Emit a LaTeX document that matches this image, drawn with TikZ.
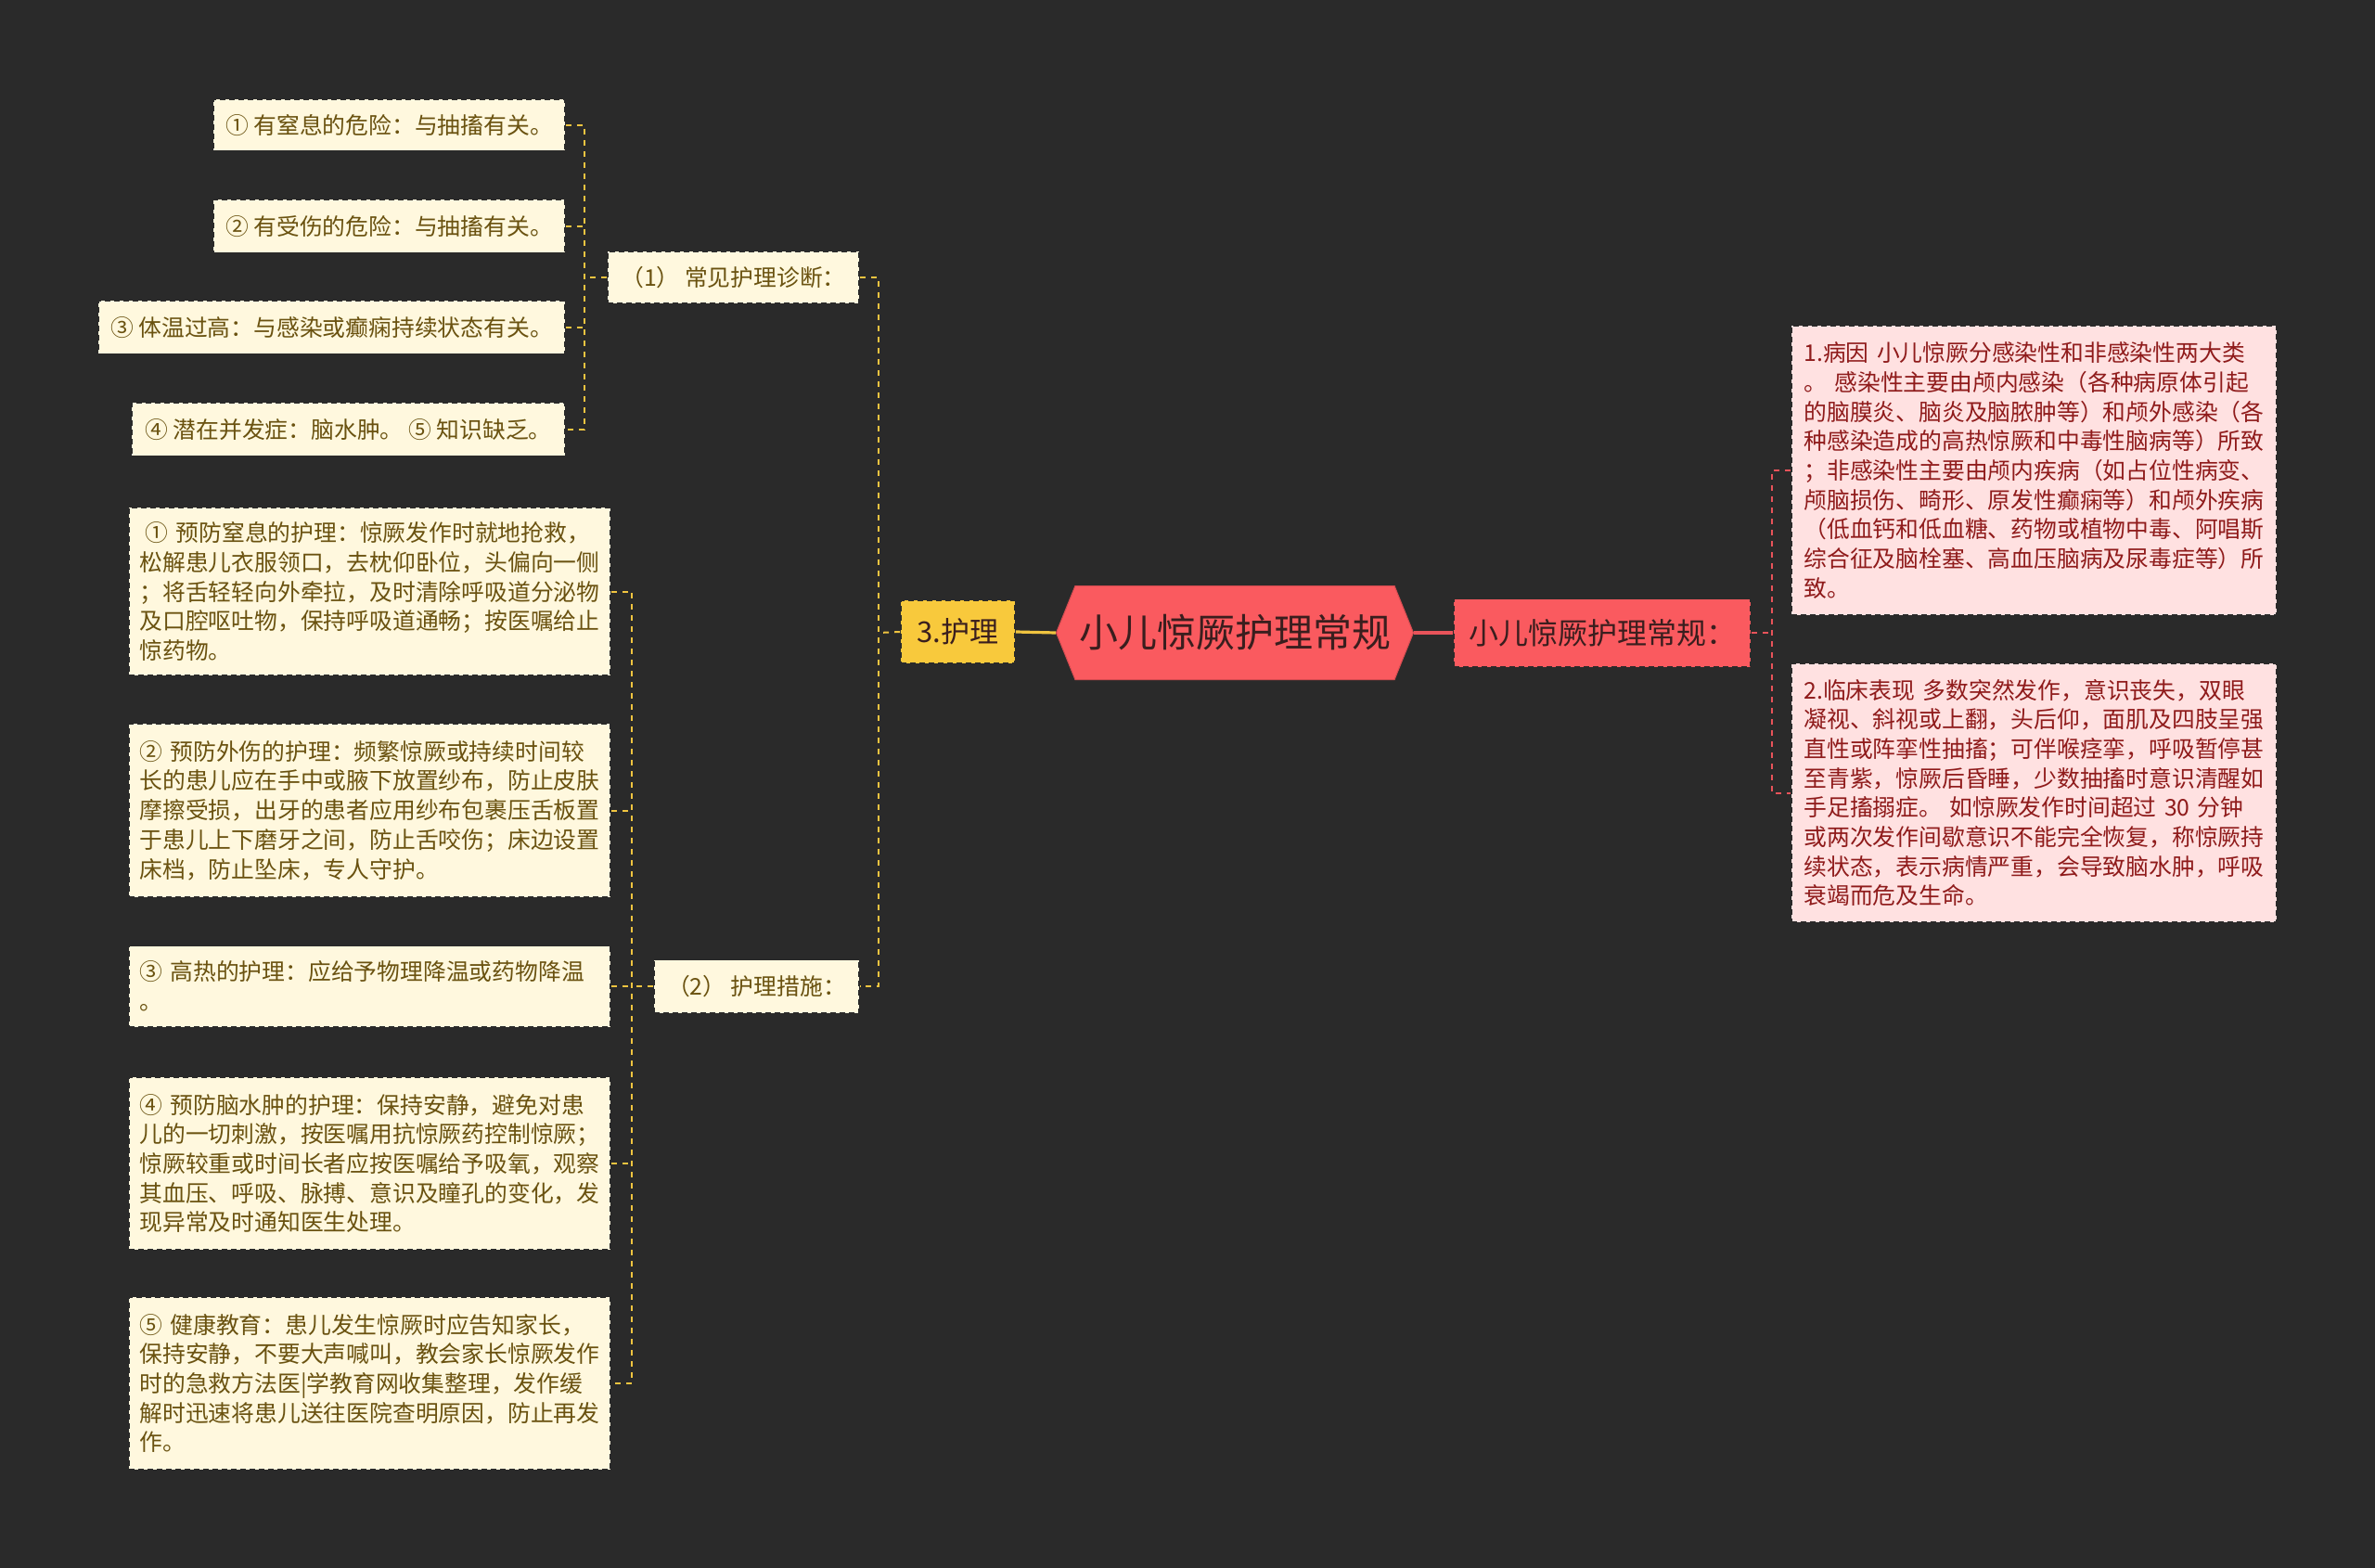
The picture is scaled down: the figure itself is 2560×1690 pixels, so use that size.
\documentclass[tikz,border=0pt]{standalone}
\usepackage{fontspec}
\setmainfont{Noto Sans CJK SC}
\usetikzlibrary{shapes.symbols}
\definecolor{bg}{HTML}{2A2A2A}
\definecolor{cream}{HTML}{FFF8DE}
\definecolor{creamtext}{HTML}{6A5210}
\definecolor{pink}{HTML}{FFE1E1}
\definecolor{pinktext}{HTML}{8F1B1B}
\definecolor{coral}{HTML}{FA5A5F}
\definecolor{gold}{HTML}{F8C93C}
\definecolor{goldline}{HTML}{F0C440}
\definecolor{redline}{HTML}{E8535A}
\definecolor{roottext}{HTML}{3A1E1E}
\tikzset{
  box/.style={draw=bg, dash pattern=on 3pt off 2pt, line width=0.9pt, inner sep=0pt},
  leaf/.style={box, fill=cream, text=creamtext, font=\fontsize{12.4}{15.85}\selectfont},
  leafnote/.style={leaf, align=left, text width=248pt, minimum width=259.5pt},
  pinknote/.style={box, fill=pink, text=pinktext, font=\fontsize{12.4}{15.85}\selectfont,
    align=left, text width=248pt, minimum width=261.5pt},
  golddash/.style={goldline, line width=1pt, dash pattern=on 3pt off 3pt},
  reddash/.style={redline, line width=1pt, dash pattern=on 3pt off 3pt},
}
\begin{document}
\begin{tikzpicture}[x=0.5pt, y=-0.5pt]
  \useasboundingbox[fill=bg] (0,0) rectangle (2560,1690);
  % Centre
  \node[signal, signal to=west and east, signal pointer angle=136, fill=coral, draw=coral!85!black,
    line width=0.5pt, inner sep=0pt, minimum width=192.5pt, minimum height=50.5pt,
    text=roottext, font=\fontsize{21}{24}\selectfont] (root) at (1331,682) {小儿惊厥护理常规};
  \node[box, fill=coral, text=roottext, minimum width=160pt, minimum height=36.5pt,
    font=\fontsize{16}{19}\selectfont] (sub) at (1727,682) {小儿惊厥护理常规：};
  \node[box, fill=gold, text=roottext, minimum width=61.5pt, minimum height=34pt,
    font=\fontsize{15.5}{18}\selectfont] (care) at (1032.5,681) {3.护理};
  % Right branch
  \node[pinknote, minimum height=156pt] (cause) at (2192.5,507) {1.病因 小儿惊厥分感染性和非感染性两大类\\
    。 感染性主要由颅内感染（各种病原体引起\\
    的脑膜炎、脑炎及脑脓肿等）和颅外感染（各\\
    种感染造成的高热惊厥和中毒性脑病等）所致\\
    ；非感染性主要由颅内疾病（如占位性病变、\\
    颅脑损伤、畸形、原发性癫痫等）和颅外疾病\\
    （低血钙和低血糖、药物或植物中毒、阿唱斯\\
    综合征及脑栓塞、高血压脑病及尿毒症等）所\\
    致。};
  \node[pinknote, minimum height=139.5pt] (sign) at (2192.5,854.5) {2.临床表现 多数突然发作，意识丧失，双眼\\
    凝视、斜视或上翻，头后仰，面肌及四肢呈强\\
    直性或阵挛性抽搐；可伴喉痉挛，呼吸暂停甚\\
    至青紫，惊厥后昏睡，少数抽搐时意识清醒如\\
    手足搐搦症。 如惊厥发作时间超过 30 分钟\\
    或两次发作间歇意识不能完全恢复，称惊厥持\\
    续状态，表示病情严重，会导致脑水肿，呼吸\\
    衰竭而危及生命。};
  % Left branch
  \node[leaf, minimum width=135.5pt, minimum height=28pt] (diag) at (790.5,299) {（1） 常见护理诊断：};
  \node[leaf, minimum width=110.5pt, minimum height=28.5pt] (meas) at (815.5,1063) {（2） 护理措施：};
  \node[leaf, minimum width=189.5pt, minimum height=27.5pt] (c1) at (419.5,135) {① 有窒息的危险：与抽搐有关。};
  \node[leaf, minimum width=189.5pt, minimum height=28.5pt] (c2) at (419.5,244) {② 有受伤的危险：与抽搐有关。};
  \node[leaf, minimum width=251.5pt, minimum height=28.5pt] (c3) at (357.5,353) {③ 体温过高：与感染或癫痫持续状态有关。};
  \node[leaf, minimum width=233.5pt, minimum height=28.5pt] (c4) at (375.5,463) {④ 潜在并发症：脑水肿。 ⑤ 知识缺乏。};
  \node[leafnote, minimum height=90.5pt] (d1) at (398.5,637.5) {\hspace{0.25em}① 预防窒息的护理：惊厥发作时就地抢救，\\
    松解患儿衣服领口，去枕仰卧位，头偏向一侧\\
    ；将舌轻轻向外牵拉，及时清除呼吸道分泌物\\
    及口腔呕吐物，保持呼吸道通畅；按医嘱给止\\
    惊药物。};
  \node[leafnote, minimum height=93.5pt] (d2) at (398.5,873.5) {② 预防外伤的护理：频繁惊厥或持续时间较\\
    长的患儿应在手中或腋下放置纱布，防止皮肤\\
    摩擦受损，出牙的患者应用纱布包裹压舌板置\\
    于患儿上下磨牙之间，防止舌咬伤；床边设置\\
    床档，防止坠床，专人守护。};
  \node[leafnote, minimum height=43.5pt] (d3) at (398.5,1063) {③ 高热的护理：应给予物理降温或药物降温\\
    。};
  \node[leafnote, minimum height=93pt] (d4) at (398.5,1254) {④ 预防脑水肿的护理：保持安静，避免对患\\
    儿的一切刺激，按医嘱用抗惊厥药控制惊厥；\\
    惊厥较重或时间长者应按医嘱给予吸氧，观察\\
    其血压、呼吸、脉搏、意识及瞳孔的变化，发\\
    现异常及时通知医生处理。};
  \node[leafnote, minimum height=93pt] (d5) at (398.5,1491) {⑤ 健康教育：患儿发生惊厥时应告知家长，\\
    保持安静，不要大声喊叫，教会家长惊厥发作\\
    时的急救方法医|学教育网收集整理，发作缓\\
    解时迅速将患儿送往医院查明原因，防止再发\\
    作。};
  % Junctions
  \coordinate (rj) at (1910,682);
  \coordinate (lj) at (947,682);
  \coordinate (dj) at (630,299);
  \coordinate (mj) at (681,1063);
  % Connectors
  \draw[redline, line width=1.6pt] (root.east) -- (sub.west);
  \draw[goldline, line width=1.6pt] (root.west) -- (care.east);
  \draw[reddash] (sub.east) -- (rj);
  \draw[reddash] (cause.west) -| (rj) |- (sign.west);
  \draw[golddash] (care.west) -- (lj);
  \draw[golddash] (diag.east) -| (lj) |- (meas.east);
  \draw[golddash] (diag.west) -- (dj);
  \draw[golddash] (c1.east) -| (dj) |- (c4.east);
  \foreach \n in {c2,c3}
    \draw[golddash] (\n.east) -- (\n.east -| dj);
  \draw[golddash] (meas.west) -- (mj);
  \draw[golddash] (d1.east) -| (mj) |- (d5.east);
  \foreach \n in {d2,d3,d4}
    \draw[golddash] (\n.east) -- (\n.east -| mj);
\end{tikzpicture}
\end{document}
